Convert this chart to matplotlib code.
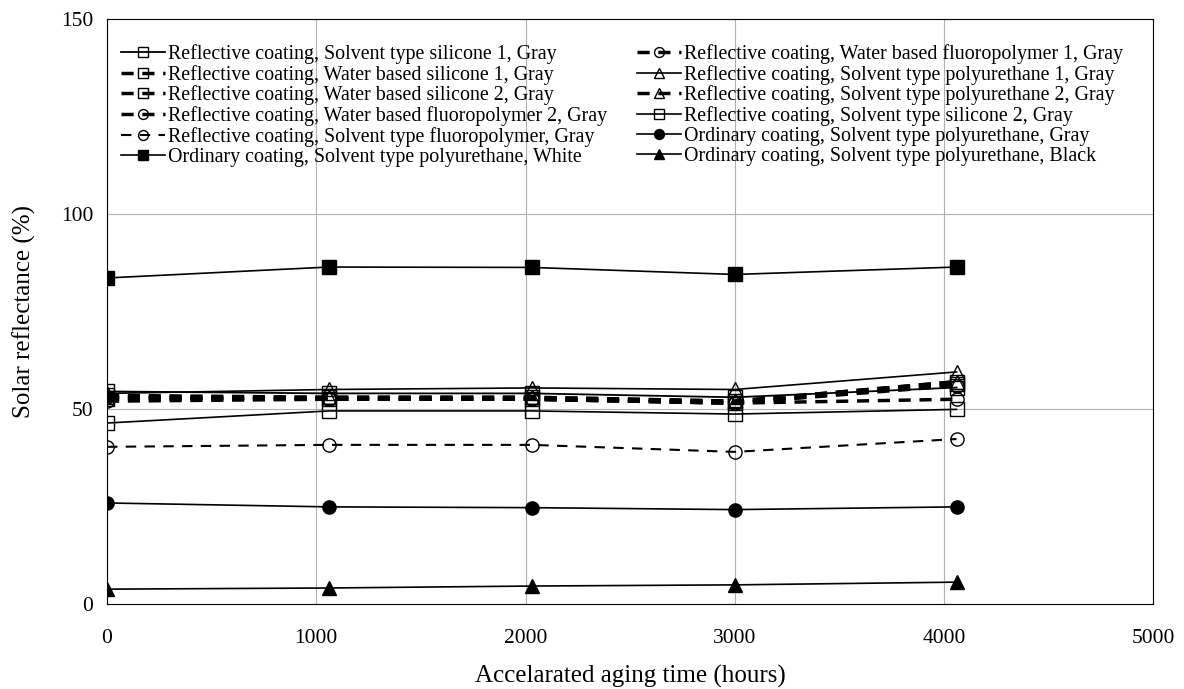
import matplotlib.pyplot as plt

plt.rcParams["font.family"] = ["Liberation Serif", "DejaVu Serif"]

hours = [0, 1060, 2030, 3000, 4060]

# column-first order of the legend
names = [
    "Reflective coating, Solvent type silicone 1, Gray",
    "Reflective coating, Water based silicone 1, Gray",
    "Reflective coating, Water based silicone 2, Gray",
    "Reflective coating, Water based fluoropolymer 2, Gray",
    "Reflective coating, Solvent type fluoropolymer, Gray",
    "Ordinary coating, Solvent type polyurethane, White",
    "Reflective coating, Water based fluoropolymer 1, Gray",
    "Reflective coating, Solvent type polyurethane 1, Gray",
    "Reflective coating, Solvent type polyurethane 2, Gray",
    "Reflective coating, Solvent type silicone 2, Gray",
    "Ordinary coating, Solvent type polyurethane, Gray",
    "Ordinary coating, Solvent type polyurethane, Black",
]

silicone1_solvent = [54.5, 54.0, 54.0, 53.0, 55.5]
silicone1_water = [53.5, 53.0, 53.0, 52.0, 57.0]
silicone2_water = [52.5, 52.5, 52.5, 51.5, 56.5]
fluoro2_water = [52.0, 52.5, 52.5, 51.5, 52.5]
fluoro_solvent = [40.3, 40.8, 40.8, 39.0, 42.3]
white_ordinary = [83.6, 86.4, 86.3, 84.5, 86.4]
fluoro1_water = [53.0, 52.5, 52.5, 51.5, 56.0]
pu1_solvent = [54.0, 55.0, 55.4, 55.0, 59.5]
pu2_solvent = [53.0, 53.0, 53.0, 52.0, 57.0]
silicone2_solvent = [46.4, 49.5, 49.5, 48.7, 49.9]
gray_ordinary = [25.9, 24.9, 24.7, 24.2, 24.9]
black_ordinary = [3.8, 4.1, 4.6, 4.9, 5.6]

series = [silicone1_solvent, silicone1_water, silicone2_water, fluoro2_water,
          fluoro_solvent, white_ordinary, fluoro1_water, pu1_solvent,
          pu2_solvent, silicone2_solvent, gray_ordinary, black_ordinary]

dash = (0, (3.5, 2.5))
styles = [
    dict(ls="-", lw=1.3, marker="s", mfc="none"),
    dict(ls=dash, lw=2.5, marker="s", mfc="none"),
    dict(ls=dash, lw=2.5, marker="s", mfc="none"),
    dict(ls=dash, lw=2.5, marker="o", mfc="none"),
    dict(ls=(0, (5, 4)), lw=1.5, marker="o", mfc="none"),
    dict(ls="-", lw=1.2, marker="s", mfc="black"),
    dict(ls=dash, lw=2.5, marker="o", mfc="none"),
    dict(ls="-", lw=1.2, marker="^", mfc="none"),
    dict(ls=dash, lw=2.5, marker="^", mfc="none"),
    dict(ls="-", lw=1.2, marker="s", mfc="none"),
    dict(ls="-", lw=1.2, marker="o", mfc="black"),
    dict(ls="-", lw=1.2, marker="^", mfc="black"),
]

fig, ax = plt.subplots(figsize=(11.84, 6.89), dpi=100)
fig.subplots_adjust(left=0.0904, right=0.974, top=0.9724, bottom=0.1234)

for name, vals, st in zip(names, series, styles):
    ax.plot(hours, vals, color="black", mec="black", mew=1.0, ms=9.5,
            label=name, **st)

ax.set_xlim(0, 5000)
ax.set_ylim(0, 150)
ax.set_xticks([0, 1000, 2000, 3000, 4000, 5000])
ax.set_yticks([0, 50, 100, 150])
ax.grid(True, color="#b0b0b0", lw=0.8)
ax.set_axisbelow(True)
ax.tick_params(axis="x", length=0, labelsize=15.5, pad=18)
ax.tick_params(axis="y", length=0, labelsize=15.5, pad=10)
ax.set_xlabel("Accelarated aging time (hours)", fontsize=18, labelpad=12)
ax.set_ylabel("Solar reflectance (%)", fontsize=18, labelpad=18)

ax.legend(loc="upper left", bbox_to_anchor=(0.0, 0.981), ncol=2, frameon=False,
          fontsize=14.4, handlelength=2.2, handletextpad=0.15, columnspacing=1.5,
          labelspacing=0.04, borderaxespad=0.3, markerscale=0.75)

fig.savefig("out.png")
